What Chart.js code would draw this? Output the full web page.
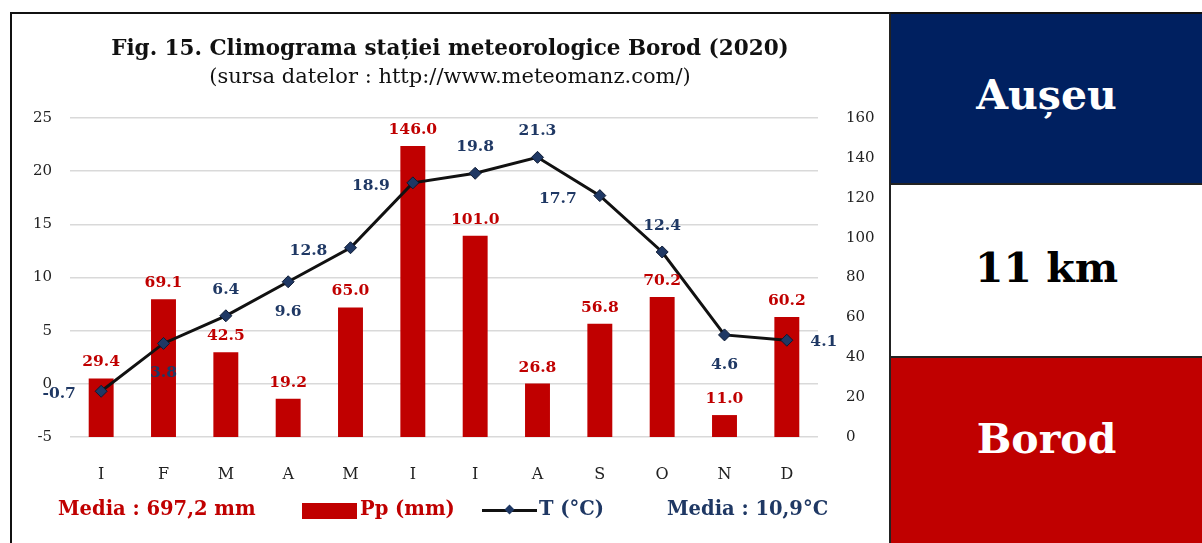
<!DOCTYPE html>
<html>
<head>
<meta charset="utf-8">
<title>Climograma Borod 2020</title>
<script src="https://cdn.jsdelivr.net/npm/chart.js@4.4.0/dist/chart.umd.min.js"></script>
<style>
  body { margin: 0; width: 1202px; height: 543px; overflow: hidden; background: #fff; position: relative; font-family: "DejaVu Serif", serif; }
  #frame { position: absolute; left: 10px; top: 12px; width: 877px; height: 540px; border-left: 2px solid #111; border-top: 2px solid #111; border-right: 1px solid #999; }
  #chart { position: absolute; left: 10px; top: 12px; }
  .t { position: absolute; white-space: nowrap; }
  #title { left: 0; width: 900px; text-align: center; top: 35px; font-weight: bold; font-size: 21.5px; color: #111; }
  #subtitle { left: 0; width: 900px; text-align: center; top: 64px; font-size: 21px; color: #111; }
  .leg { position: absolute; top: 497px; font-weight: bold; font-size: 19.5px; white-space: nowrap; }
  .red { color: #C00000; }
  .navy { color: #1F3864; }
  #ppBox { position: absolute; left: 302px; top: 503px; width: 55px; height: 16px; background: #C00000; }
  #tLine { position: absolute; left: 482px; top: 509px; width: 55px; height: 3px; background: #111; }
  #tDot { position: absolute; left: 506px; top: 506px; width: 7px; height: 7px; background: #1F3864; transform: rotate(45deg); }
  .panel { position: absolute; left: 889px; width: 313px; border-left: 2px solid #222; box-sizing: border-box; }
  .panel span { position: absolute; left: 0; width: 100%; text-align: center; font-weight: bold; font-size: 41px; }
  #p1 { top: 12px; height: 171px; background: #002060; border-top: 2px solid #111; }
  #p2 { top: 183px; height: 173px; background: #fff; border-top: 2px solid #222; }
  #p3 { top: 356px; height: 187px; background: #C00000; border-top: 2px solid #222; }
</style>
</head>
<body>
<div id="frame"></div>
<canvas id="chart" width="880" height="531"></canvas>
<div id="title" class="t">Fig. 15. Climograma stației meteorologice Borod (2020)</div>
<div id="subtitle" class="t">(sursa datelor : http://www.meteomanz.com/)</div>

<div class="leg red" style="left:58px">Media : 697,2 mm</div>
<div id="ppBox"></div>
<div class="leg red" style="left:360px">Pp (mm)</div>
<div id="tLine"></div>
<div id="tDot"></div>
<div class="leg navy" style="left:539px">T (°C)</div>
<div class="leg navy" style="left:667px">Media : 10,9°C</div>

<div id="p1" class="panel"><span style="top:57px;color:#fff">Aușeu</span></div>
<div id="p2" class="panel"><span style="top:59px;color:#000">11 km</span></div>
<div id="p3" class="panel"><span style="top:57px;color:#fff">Borod</span></div>

<script>
// luni, precipitatii (mm) si temperatura medie (°C) - Borod 2020
const months = ["I", "F", "M", "A", "M", "I", "I", "A", "S", "O", "N", "D"];
const precip = [29.4, 69.1, 42.5, 19.2, 65.0, 146.0, 101.0, 26.8, 56.8, 70.2, 11.0, 60.2];
const temp = [-0.7, 3.8, 6.4, 9.6, 12.8, 18.9, 19.8, 21.3, 17.7, 12.4, 4.6, 4.1];

// where each temperature label sits relative to its point
const tempLabelPos = ["left", "below", "above", "below", "left", "left", "above", "above", "left", "above", "below", "right"];

const RED = "#C00000";
const NAVY = "#1F3864";
const FONT = "'DejaVu Serif', serif";

const valueLabels = {
  id: "valueLabels",
  afterDatasetsDraw(chart) {
    const ctx = chart.ctx;
    ctx.save();
    ctx.textAlign = "center";
    ctx.textBaseline = "middle";
    ctx.font = "bold 15.5px " + FONT;

    // bar labels above each bar
    ctx.fillStyle = RED;
    chart.getDatasetMeta(1).data.forEach((bar, i) => {
      ctx.fillText(precip[i].toFixed(1), bar.x, bar.y - 16);
    });

    // temperature labels
    ctx.fillStyle = NAVY;
    chart.getDatasetMeta(0).data.forEach((pt, i) => {
      let dx = 0, dy = 0;
      if (tempLabelPos[i] === "left") { dx = -42; dy = 3; }
      if (tempLabelPos[i] === "right") { dx = 37; dy = 2; }
      if (tempLabelPos[i] === "above") { dy = -26; }
      if (tempLabelPos[i] === "below") { dy = 30; }
      ctx.fillText(temp[i].toFixed(1), pt.x + dx, pt.y + dy);
    });
    ctx.restore();
  },
};

new Chart(document.getElementById("chart"), {
  data: {
    labels: months,
    datasets: [
      {
        type: "line",
        label: "T (°C)",
        data: temp,
        yAxisID: "y",
        order: 0,
        borderColor: "#111",
        borderWidth: 3,
        tension: 0,
        pointStyle: "rectRot",
        pointRadius: 6,
        pointBackgroundColor: NAVY,
        pointBorderColor: "#0d1a33",
        pointBorderWidth: 1,
      },
      {
        type: "bar",
        label: "Pp (mm)",
        data: precip,
        yAxisID: "y1",
        order: 1,
        backgroundColor: RED,
        categoryPercentage: 1,
        barPercentage: 0.4,
      },
    ],
  },
  options: {
    responsive: false,
    animation: false,
    layout: { padding: { top: 106, bottom: 61, left: 0, right: 0 } },
    plugins: {
      legend: { display: false },
      tooltip: { enabled: false },
    },
    scales: {
      x: {
        grid: { display: false },
        border: { display: false },
        ticks: { color: "#222", padding: 20, font: { family: FONT, size: 16 } },
        afterFit(scale) { scale.height = 45; },
      },
      y: {
        position: "left",
        min: -5,
        max: 25,
        ticks: { stepSize: 5, color: "#222", padding: 18, font: { family: FONT, size: 15 } },
        grid: { color: "#d9d9d9", lineWidth: 1.5, drawTicks: false },
        border: { display: false },
        afterFit(scale) { scale.width = 60; },
      },
      y1: {
        position: "right",
        min: 0,
        max: 160,
        ticks: { stepSize: 20, color: "#222", padding: 20, font: { family: FONT, size: 15 } },
        grid: { display: false },
        border: { display: false },
        afterFit(scale) { scale.width = 72; },
      },
    },
  },
  plugins: [valueLabels],
});
</script>
</body>
</html>
